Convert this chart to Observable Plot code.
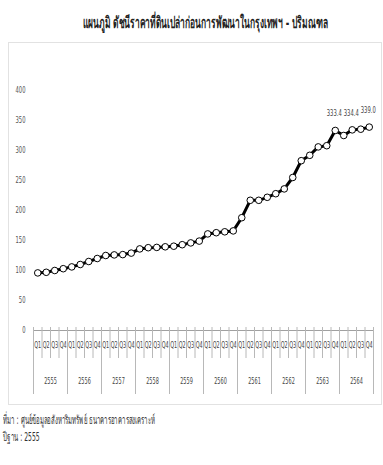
<!DOCTYPE html>
<html><head><meta charset="utf-8">
<script src="https://cdn.jsdelivr.net/npm/d3@7"></script>
<script src="https://cdn.jsdelivr.net/npm/@observablehq/plot@0.6"></script>
<style>
body{margin:0;background:#fff;width:383px;height:465px;overflow:hidden;position:relative;font-family:"DejaVu Sans","Liberation Sans",sans-serif;}
.fit{position:absolute;white-space:nowrap;transform-origin:0 50%;display:inline-block}
#title{left:83px;top:13px;font-size:16px;line-height:19px;font-weight:bold;color:#222}
#box{position:absolute;left:8px;top:42px;width:374px;height:363px;border:1px solid #e2e2e2;box-sizing:border-box}
#chart{position:absolute;left:0;top:42px}
.foot{left:3px;font-size:12px;line-height:14px;color:#333}
</style></head><body>
<div id="title" class="fit" data-w="245">แผนภูมิ ดัชนีราคาที่ดินเปล่าก่อนการพัฒนาในกรุงเทพฯ - ปริมณฑล</div>
<div id="box"></div>
<div id="chart"></div>
<div id="f1" class="foot fit" style="top:413px">ที่มา : ศูนย์ข้อมูลอสังหาริมทรัพย์ ธนาคารอาคารสงเคราะห์</div>
<div id="f2" class="foot fit" style="top:430px">ปีฐาน : 2555</div>
<script>
const years = ["2555","2556","2557","2558","2559","2560","2561","2562","2563","2564"];
const quarters = ["Q1","Q2","Q3","Q4"];
const values = [
  96, 97, 100, 103,
  106, 110, 115, 120,
  125, 126, 126.5, 129,
  136, 138, 138.5, 139.5,
  140.5, 143, 146, 149,
  161, 163, 164.5, 166,
  188, 217, 217, 222,
  228, 236, 255, 283,
  292, 306, 308, 333.4,
  325, 334.4, 335.5, 339.0
];
const yTicks = [0, 50, 100, 150, 200, 250, 300, 350, 400];
const labelled = ["2563 Q4", "2564 Q2", "2564 Q4"];

const nq = quarters.length;
const data = values.map((v, i) => ({i, year: years[Math.floor(i / nq)], q: quarters[i % nq], v}));
const yearRows = years.map((y, k) => ({year: y, mid: k * nq + (nq - 1) / 2}));
const qBounds = d3.range(data.length + 1).filter(i => i % nq !== 0).map(i => i - 0.5);
const yBounds = d3.range(0, data.length + 1, nq).map(i => i - 0.5);
const lab = data.filter(d => labelled.includes(d.year + " " + d.q));

const H = 363;
const chart = Plot.plot({
  width: 383, height: H,
  marginLeft: 33, marginRight: 10, marginTop: 48, marginBottom: H - 288,
  x: {type: "linear", domain: [-0.5, data.length - 0.5], axis: null},
  y: {domain: [0, 400], axis: null},
  style: {fontFamily: '"DejaVu Sans",sans-serif', background: "transparent", overflow: "visible"},
  marks: [
    Plot.axisY({ticks: yTicks, tickSize: 0, tickPadding: 8, fontSize: 9, color: "#555", anchor: "left", label: null}),
    Plot.ruleY([0], {stroke: "#a0a0a0"}),
    Plot.ruleX(qBounds, {x: d => d, y1: 0, y2: 0, insetTop: -3, insetBottom: -28, stroke: "#b8b8b8"}),
    Plot.ruleX(yBounds, {x: d => d, y1: 0, y2: 0, insetTop: -3, insetBottom: -64, stroke: "#b8b8b8"}),
    Plot.text(data, {x: "i", y: 0, text: "q", dy: 15, fontSize: 8.5, fill: "#444"}),
    Plot.text(yearRows, {x: "mid", y: 0, text: "year", dy: 51, fontSize: 8.5, fill: "#444"}),
    Plot.line(data, {x: "i", y: "v", stroke: "#000", strokeWidth: 3}),
    Plot.dot(data, {x: "i", y: "v", r: 3.3, fill: "white", stroke: "#000", strokeWidth: 1}),
    Plot.text(lab, {x: "i", y: "v", text: d => d.v.toFixed(1), dy: -17, dx: -1, fontSize: 9, fill: "#444"})
  ]
});
document.getElementById("chart").appendChild(chart);
// condensed look: squeeze SVG texts horizontally
chart.querySelectorAll("text").forEach(t => {
  const w = t.getComputedTextLength();
  if (w > 0) { t.setAttribute("textLength", (w * 0.58).toFixed(2)); t.setAttribute("lengthAdjust", "spacingAndGlyphs"); }
});
// fit HTML texts to the reference widths
const fitTo = (el, target) => { const s = target / el.getBoundingClientRect().width; el.style.transform = `scaleX(${s})`; return s; };
fitTo(document.getElementById("title"), 245);
const s = fitTo(document.getElementById("f1"), 152);
document.getElementById("f2").style.transform = `scaleX(${s})`;
</script>
</body></html>
